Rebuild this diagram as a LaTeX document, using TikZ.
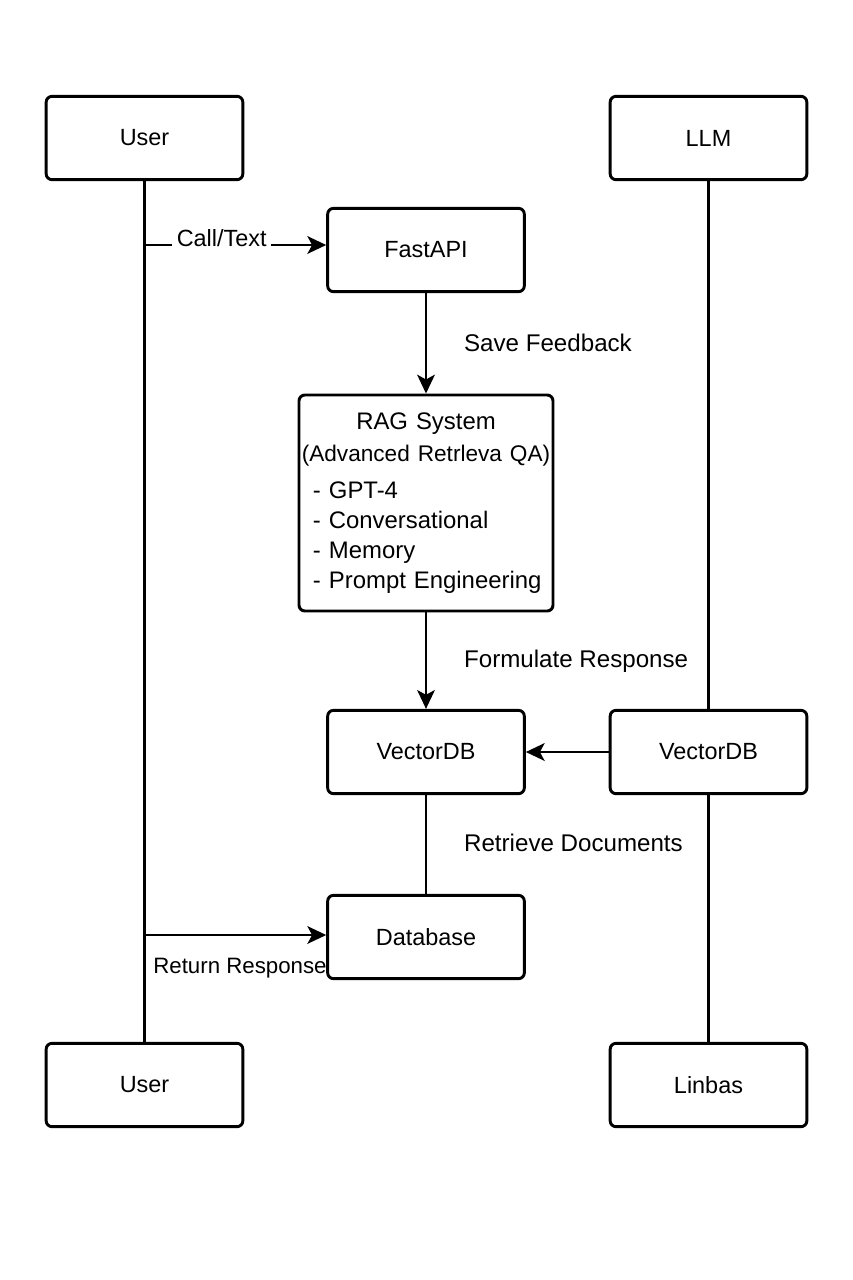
\documentclass[tikz,border=0pt]{standalone}
\usepackage{fontspec}
\setmainfont{Liberation Sans}
\usetikzlibrary{arrows.meta}
\begin{document}
\begin{tikzpicture}[x=0.03cm,y=-0.03cm,
  box/.style={draw,line width=2.5pt,rounded corners=5pt,minimum width=5.9cm,minimum height=2.5cm,font=\fontsize{20}{24}\selectfont},
  ln/.style={line width=2.5pt},
  arr/.style={line width=2.5pt,-{Stealth[length=16pt,width=15pt,inset=4pt]}},
  lbl/.style={font=\fontsize{20.6}{24}\selectfont}]
\useasboundingbox (0,0) rectangle (853,1280);
% lifeline heads and feet
\node[box] (user) at (144.5,138) {User};
\node[box] (llm) at (708.5,138) {LLM};
\node[box] (user2) at (144.5,1085) {User};
\node[box] (linbas) at (708.5,1085) {Linbas};
% middle column
\node[box,minimum width=7.62cm,minimum height=6.48cm,text width=7.5cm,inner xsep=0.06cm,
  font=\fontsize{20.4}{27}\selectfont] (rag) at (426,503)
  {\makebox[\linewidth][c]{RAG System}\par
   \makebox[\linewidth][c]{\fontsize{19.3}{27}\selectfont(Advanced Retrleva QA)}\par\vspace{0.22cm}
   \fontsize{20.4}{25.6}\selectfont\raggedright\leftskip=0.36cm - GPT-4\\- Conversational\\- Memory\\- Prompt Engineering\par};
\node[box] (api) at (426,250) {FastAPI};
\node[box] (vdb) at (426,752) {VectorDB};
\node[box] (vdb2) at (708.5,752) {VectorDB};
\node[box] (db) at (426,937) {Database};
% lifelines
\draw[ln] (user) -- (user2);
\draw[ln] (llm) -- (vdb2);\draw[ln] (vdb2) -- (linbas);
% messages
\coordinate (c1) at (146,245);
\draw[arr] (c1) -- (c1 -| api.west) node[pos=0.42,fill=white,lbl,font=\fontsize{20}{24}\selectfont,yshift=0.2cm,inner xsep=4pt] (ct) {Call/Text};
\draw[arr] (api) -- (rag);
\node[lbl,anchor=west] (sf) at (460,343) {Save Feedback};
\draw[arr] (rag) -- (vdb);
\node[lbl,anchor=west] (fr) at (460,661) {Formulate Response};
\draw[arr] (vdb2) -- (vdb);
\draw[ln] (vdb) -- (db);
\node[lbl,anchor=west] (rd) at (460,843) {Retrieve Documents};
\coordinate (c2) at (146,935);
\draw[arr] (c2) -- (c2 -| db.west);
\node[lbl,font=\fontsize{19}{24}\selectfont,anchor=east,inner xsep=1pt] (rr) at (328,968) {Return Response};
\end{tikzpicture}
\end{document}
